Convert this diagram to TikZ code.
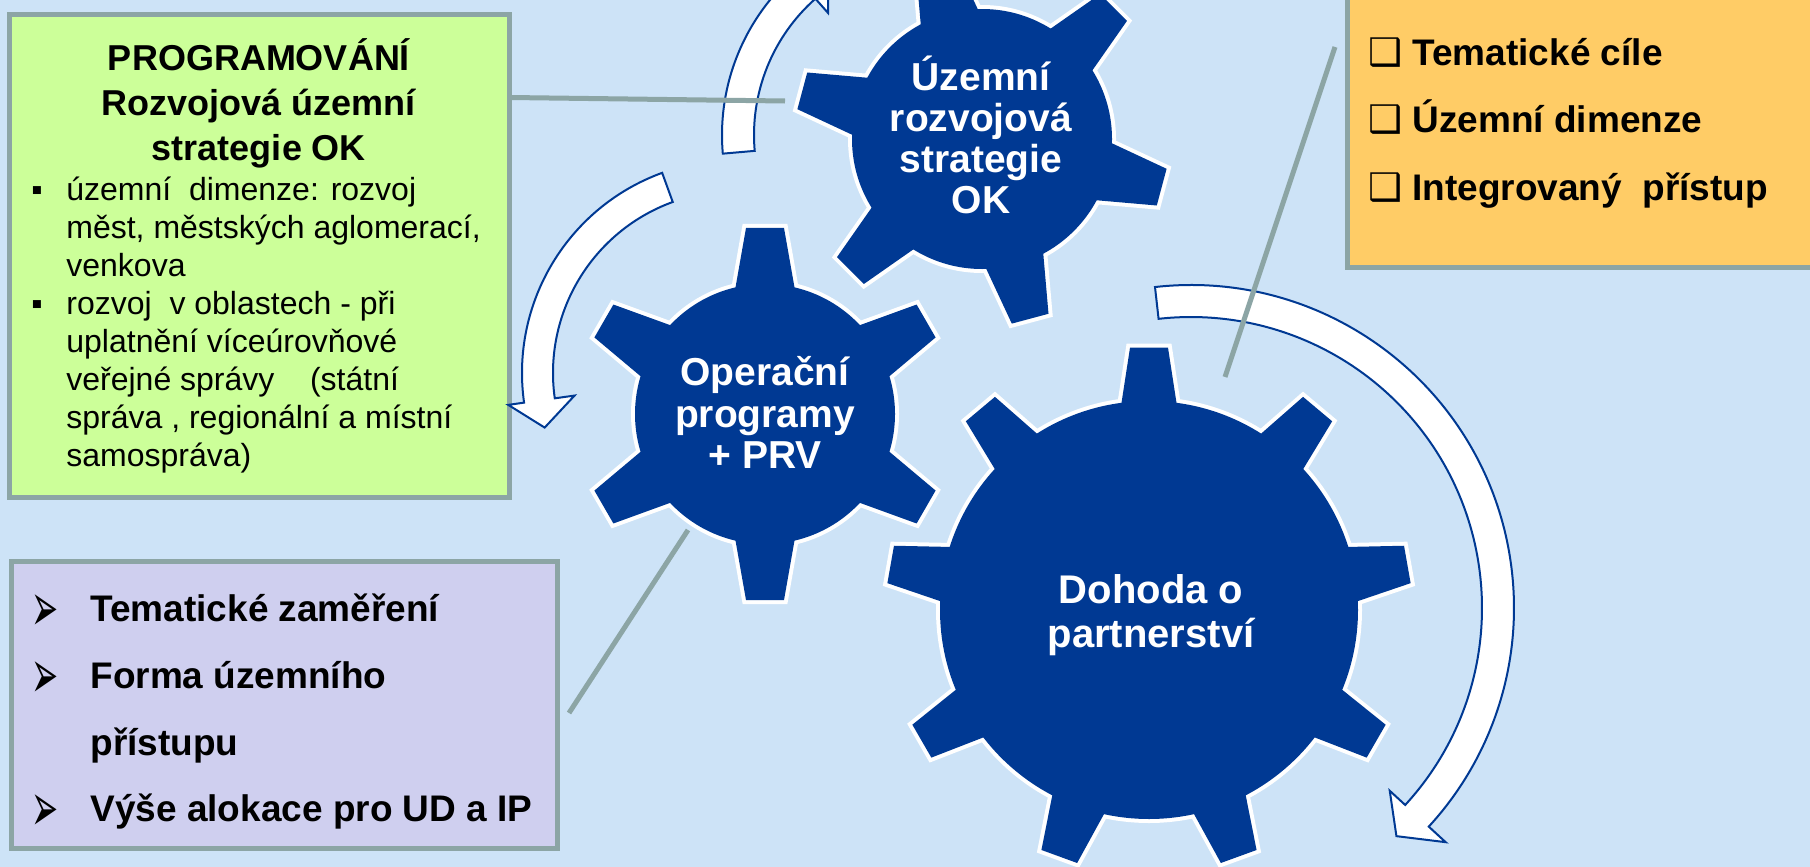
\documentclass[tikz,border=0pt]{standalone}
\usepackage{fontspec}
\setmainfont{Liberation Sans}
\newfontfamily\djv{DejaVu Sans}
\definecolor{bgblue}{RGB}{205,227,247}
\definecolor{boxgreen}{RGB}{204,255,153}
\definecolor{boxorange}{RGB}{255,204,102}
\definecolor{boxlav}{RGB}{207,207,239}
\definecolor{framegray}{RGB}{140,165,165}
\definecolor{gearblue}{RGB}{0,57,147}
\definecolor{arrowblue}{RGB}{0,57,147}

\tikzset{
 panel/.style={draw=framegray, line width=2.5pt},
 link/.style={draw=framegray, line width=2.5pt},
 band/.style={fill=white, draw=arrowblue, line width=1pt, line join=miter},
 gtext/.style={text=white, font=\bfseries\fontsize{19.5}{22}\selectfont, anchor=base, inner sep=0pt},
 gtextbig/.style={text=white, font=\bfseries\fontsize{20}{22}\selectfont, anchor=base, inner sep=0pt},
 btitle/.style={font=\bfseries\fontsize{18}{22}\selectfont, anchor=base, inner sep=0pt},
 bline/.style={font=\fontsize{16}{19}\selectfont, anchor=base west, inner sep=0pt},
 bbold/.style={font=\bfseries\fontsize{18.5}{22}\selectfont, anchor=base west, inner sep=0pt},
 sym/.style={font=\djv\fontsize{19}{22}\selectfont, anchor=base west, inner sep=0pt},
 arrsym/.style={anchor=base west, inner sep=0pt},
}
\newcommand{\arrowglyph}{\scalebox{1.08}[2.3]{\djv\fontsize{15}{18}\selectfont ➢}}

% #1 cx, #2 cy, #3 teeth, #4 phase, #5 Rout, #6 Rroot, #7 tip half width, #8 base half width
\newcommand{\gear}[8]{%
 \begin{scope}[shift={(#1,#2)}]
 \pgfmathsetmacro\gstep{360/#3}
 \pgfmathsetmacro\gut{#5*cos(asin(#7/#5))}
 \pgfmathsetmacro\gub{#6*cos(asin(#8/#6))}
 \pgfmathsetmacro\gui{\gub-25}
 \pgfmathsetmacro\gvi{#8+(#8-#7)*25/(\gut-\gub)}
 \draw[white, line width=4pt] (0,0) circle[radius=#6];
 \foreach \k in {1,...,#3}{
   \draw[white, line width=4pt, rotate={#4+\k*\gstep}] (\gui,-\gvi) -- (\gut,-#7) -- (\gut,#7) -- (\gui,\gvi) -- cycle;
 }
 \fill[gearblue] (0,0) circle[radius=#6];
 \foreach \k in {1,...,#3}{
   \fill[gearblue, rotate={#4+\k*\gstep}] (\gui,-\gvi) -- (\gut,-#7) -- (\gut,#7) -- (\gui,\gvi) -- cycle;
 }
 \end{scope}}

\begin{document}
\begin{tikzpicture}[x=0.5pt,y=0.5pt]
\useasboundingbox (0,0) rectangle (1810,-867);
\fill[bgblue] (0,0) rectangle (1810,-867);
\clip (0,0) rectangle (1810,-867);

% panels
\draw[panel, fill=boxgreen] (9,-14) rectangle (509,-497);
\draw[panel, fill=boxorange] (1347,20) rectangle (1840,-267);
\draw[panel, fill=boxlav] (11.5,-561) rectangle (557,-848);

% circular arrows
\draw[band, shift={(1191,-608)}] (96.4:323) arc[start angle=96.4, end angle=-42.6, radius=323]
  -- (-42.6:346) -- (-48:307) -- (-42.6:270) -- (-42.6:291)
  arc[start angle=-42.6, end angle=96.4, radius=291] -- cycle;
\draw[band, shift={(936,-135)}] (185:214) arc[start angle=185, end angle=131.5, radius=214]
  -- (131.5:235) -- (123:198) -- (131.5:163) -- (131.5:182)
  arc[start angle=131.5, end angle=185, radius=182] -- cycle;
\draw[band, shift={(735,-373)}] (110:213) arc[start angle=110, end angle=188, radius=213]
  -- (188:229) -- (196:198) -- (188:162) -- (188:182)
  arc[start angle=188, end angle=110, radius=182] -- cycle;

% connectors
\coordinate (l1a) at (510,-97.5); \coordinate (l1b) at (785,-101);
\coordinate (l2a) at (1335,-47); \coordinate (l2b) at (1225,-377);
\coordinate (l3a) at (569,-713); \coordinate (l3b) at (688,-530);
\draw[link] (l1a) -- (l1b);
\draw[link] (l2a) -- (l2b);
\draw[link] (l3a) -- (l3b);

% gears
\gear{982}{-139}{6}{45}{187}{130}{19}{29.5}
\gear{765}{-414}{6}{90}{187}{130}{19}{29.5}
\gear{1149}{-610}{9}{90}{263}{209}{19}{27.5}

% gear texts
\node[gtext] (g1a) at (981,-90) {Územní};
\node[gtext] (g1b) at (981,-131) {rozvojová};
\node[gtext] (g1c) at (981,-172) {strategie};
\node[gtext] (g1d) at (981,-213) {OK};
\node[gtext] (g2a) at (765,-385) {Operační};
\node[gtext] (g2b) at (765,-427) {programy};
\node[gtext] (g2c) at (765,-468) {+ PRV};
\node[gtextbig] (g3a) at (1151,-603) {Dohoda o};
\node[gtextbig] (g3b) at (1151,-647) {partnerství};

% green panel text
\node[btitle] (t1) at (259,-70) {PROGRAMOVÁNÍ};
\node[btitle] (t2) at (259,-115) {Rozvojová územní};
\node[btitle] (t3) at (259,-160) {strategie OK};
\node[bline] (m1) at (31,-200) {▪};
\node[bline] (m2) at (31,-314.3) {▪};
\node[bline] (b1) at (66,-200) {územní\ \ dimenze: rozvoj};
\node[bline] (b2) at (66,-238.1) {měst, městských aglomerací,};
\node[bline] (b3) at (66,-276.2) {venkova};
\node[bline] (b4) at (66,-314.3) {rozvoj\ \ v oblastech - při};
\node[bline] (b5) at (66,-352.4) {uplatnění víceúrovňové};
\node[bline] (b6) at (66,-390.5) {veřejné správy\ \ \ \ (státní};
\node[bline] (b7) at (66,-428.6) {správa , regionální a místní};
\node[bline] (b8) at (66,-466.7) {samospráva)};

% orange panel text
\node[sym] (o1s) at (1368,-65) {❑};
\node[sym] (o2s) at (1368,-132.5) {❑};
\node[sym] (o3s) at (1368,-200) {❑};
\node[bbold] (o1) at (1412,-65) {Tematické cíle};
\node[bbold] (o2) at (1412,-132.5) {Územní dimenze};
\node[bbold] (o3) at (1412,-200) {Integrovaný\ \ přístup};

% lavender panel text
\node[arrsym] (p1s) at (31,-631.7) {\arrowglyph};
\node[arrsym] (p2s) at (31,-698.3) {\arrowglyph};
\node[arrsym] (p4s) at (31,-831.7) {\arrowglyph};
\node[bbold] (p1) at (90,-621.7) {Tematické zaměření};
\node[bbold] (p2) at (90,-688.3) {Forma územního};
\node[bbold] (p3) at (90,-755) {přístupu};
\node[bbold] (p4) at (90,-821.7) {Výše alokace pro UD a IP};
\end{tikzpicture}
\end{document}
